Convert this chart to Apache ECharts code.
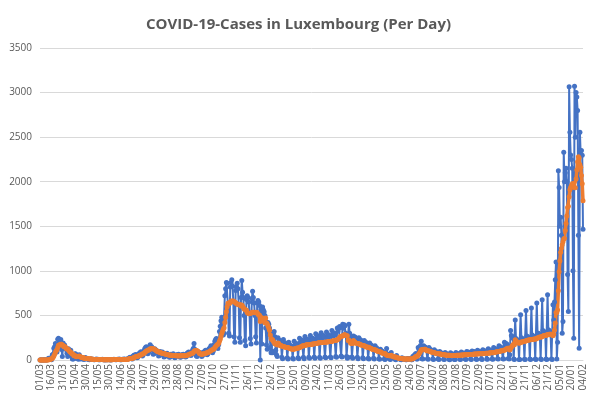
<!DOCTYPE html>
<html>
<head>
<meta charset="UTF-8">
<title>COVID-19-Cases in Luxembourg</title>
<script src="https://cdn.jsdelivr.net/npm/echarts@6/dist/echarts.min.js"></script>
<style>
  html, body { margin: 0; padding: 0; background: #fff; }
  #chart { width: 597px; height: 405px; }
</style>
</head>
<body>
<div id="chart"></div>
<script>
// first day of the series, one value per day (weeks start on Sunday)
var startDate = [2020, 2, 1];

// daily new cases, one row per week (Sun..Sat)
var dailyCases = [
  [0,0,0,0,1,1,2],
  [0,0,2,2,19,8,17],
  [26,4,59,63,132,149,186],
  [128,90,234,245,150,170,230],
  [119,38,190,141,168,125,117],
  [75,39,127,64,81,108,47],
  [11,11,15,66,71,36,57],
  [13,8,60,36,11,30,16],
  [12,6,12,28,15,18,10],
  [5,3,8,10,12,6,9],
  [4,2,7,10,5,9,4],
  [3,2,6,5,8,4,3],
  [2,1,5,4,3,6,4],
  [2,1,4,6,7,9,5],
  [3,2,5,8,6,10,4],
  [2,3,8,6,11,9,8],
  [6,5,15,20,25,31,18],
  [15,10,45,52,48,61,40],
  [25,30,70,68,85,92,75],
  [45,60,105,125,140,150,110],
  [70,85,150,170,145,150,110],
  [65,70,125,115,100,105,80],
  [45,50,95,85,80,90,60],
  [35,40,70,65,75,60,45],
  [30,35,65,55,60,70,40],
  [25,30,55,60,50,65,45],
  [30,35,60,55,65,55,40],
  [35,40,75,80,90,85,60],
  [50,65,110,130,185,120,90],
  [45,40,80,70,75,85,60],
  [40,50,85,90,100,110,70],
  [60,70,120,130,140,160,110],
  [80,100,170,210,230,240,160],
  [130,170,320,380,440,480,340],
  [280,300,720,800,870,860,620],
  [300,270,820,870,900,830,650],
  [260,200,780,820,860,800,620],
  [250,200,700,893,760,700,500],
  [220,160,680,720,700,650,520],
  [240,180,690,770,700,640,500],
  [260,190,640,668,650,610,0],
  [560,180,594,560,540,500,360],
  [170,120,420,400,360,140,80],
  [100,80,300,320,260,110,60],
  [40,250,202,222,192,172,30],
  [15,230,183,193,172,162,25],
  [10,200,155,165,145,155,20],
  [10,210,165,175,185,175,25],
  [15,245,194,203,224,213,30],
  [15,265,214,224,234,224,30],
  [20,275,224,234,244,234,35],
  [20,295,233,253,273,243,30],
  [20,305,244,264,274,254,35],
  [25,315,254,274,284,264,35],
  [25,330,273,293,303,283,40],
  [30,360,325,355,375,365,45],
  [35,400,355,395,385,300,40],
  [20,30,400,300,270,240,35],
  [20,270,247,257,247,227,30],
  [15,250,217,227,217,197,25],
  [15,220,188,198,188,168,20],
  [10,190,157,167,147,137,20],
  [10,160,128,138,118,98,15],
  [8,120,100,100,90,80,12],
  [5,20,130,67,57,47,10],
  [5,85,42,37,32,28,8],
  [3,50,21,18,16,14,5],
  [2,25,10,13,10,9,3],
  [2,16,9,13,15,17,4],
  [4,40,42,52,62,72,12],
  [10,140,123,143,163,210,15],
  [10,160,145,145,135,125,15],
  [8,140,117,117,107,97,12],
  [6,115,99,94,89,84,10],
  [5,95,84,79,74,69,8],
  [5,85,74,68,64,59,8],
  [4,80,68,68,64,60,7],
  [5,85,74,74,68,64,8],
  [5,90,79,79,74,69,10],
  [6,95,84,89,79,74,10],
  [6,100,89,94,89,79,10],
  [7,110,92,97,92,82,12],
  [7,115,98,103,98,88,12],
  [8,125,108,113,103,98,12],
  [8,140,124,129,119,114,14],
  [10,160,142,147,137,127,15],
  [12,200,169,184,179,164,18],
  [12,60,330,275,265,245,10],
  [5,450,240,230,220,190,5],
  [5,507,250,240,230,220,8],
  [5,555,270,260,250,230,10],
  [5,583,280,270,260,240,10],
  [5,640,300,300,290,270,10],
  [5,677,330,320,310,290,10],
  [5,733,340,330,320,280,10],
  [5,620,450,650,900,1100,10],
  [200,2124,1936,1500,1600,1400,300],
  [432,2330,2000,2100,2150,2000,960],
  [545,3064,2556,2300,2250,2150,1000],
  [244,3072,2500,3000,2950,2800,1400],
  [132,2556,2300,2350,2296,1466]
];

// 7-day average, same weekly rows
var avgCases = [
  [0,0,0,0,0,0,1],
  [1,1,1,1,3,4,7],
  [11,11,19,28,44,64,88],
  [103,115,140,166,169,172,178],
  [177,169,163,148,151,145,128],
  [122,122,113,102,90,87,77],
  [68,64,48,48,47,37,38],
  [38,38,44,40,31,30,25],
  [25,25,18,17,18,16,14],
  [13,13,12,10,10,8,8],
  [7,7,7,7,6,6,6],
  [6,6,5,5,5,4,4],
  [4,4,4,4,3,4,4],
  [4,4,4,4,5,5,5],
  [5,5,5,5,5,5,5],
  [5,5,6,6,6,6,7],
  [7,8,9,11,13,16,17],
  [18,19,23,28,31,36,39],
  [40,43,47,49,54,59,64],
  [66,71,76,84,92,100,105],
  [109,112,119,125,126,126,126],
  [125,123,119,111,105,99,94],
  [91,89,84,80,77,75,72],
  [71,69,66,63,62,58,56],
  [55,54,54,52,50,51,51],
  [50,49,48,49,47,46,47],
  [48,49,49,49,51,49,49],
  [49,50,52,56,59,64,66],
  [69,72,77,84,98,103,107],
  [106,103,99,90,74,69,65],
  [64,66,66,69,73,76,78],
  [81,84,89,94,100,107,113],
  [116,120,127,139,151,163,170],
  [177,187,209,233,263,297,323],
  [344,363,420,480,541,596,636],
  [639,634,649,659,663,659,663],
  [657,647,641,634,629,624,620],
  [619,619,607,618,603,589,572],
  [568,562,559,534,526,519,521],
  [524,527,529,536,536,534,531],
  [534,536,529,514,507,503,431],
  [474,473,466,451,435,419,471],
  [415,406,381,359,333,281,241],
  [231,226,209,197,183,179,176],
  [167,191,184,170,160,163,158],
  [155,152,150,146,143,141,140],
  [139,136,132,128,124,122,121],
  [121,123,125,126,131,134,135],
  [136,141,145,149,155,160,161],
  [161,164,167,170,171,172,172],
  [173,174,176,178,179,180,181],
  [181,184,186,189,192,193,193],
  [193,195,196,197,197,199,199],
  [200,201,203,205,206,207,207],
  [207,209,212,215,218,220,221],
  [222,226,233,242,252,264,265],
  [266,272,276,282,283,274,273],
  [271,218,224,211,194,186,185],
  [185,220,204,198,192,187,186],
  [185,182,178,174,169,165,164],
  [164,159,155,151,147,143,142],
  [142,137,133,129,123,119,119],
  [119,114,110,106,101,96,95],
  [95,89,85,80,76,74,73],
  [73,59,57,54,51,48,48],
  [48,52,46,41,37,34,34],
  [34,29,26,23,21,19,18],
  [18,14,13,12,11,11,10],
  [10,11,11,11,11,12,11],
  [11,15,19,25,32,39,41],
  [41,55,67,80,94,114,115],
  [115,117,120,120,116,105,105],
  [105,102,98,94,90,86,86],
  [85,82,79,76,73,71,71],
  [71,68,66,64,61,59,59],
  [59,57,56,54,53,52,52],
  [52,51,50,50,50,50,50],
  [50,51,52,52,53,54,54],
  [54,55,56,56,57,58,58],
  [58,59,60,61,61,62,62],
  [62,63,64,65,66,67,67],
  [67,68,69,70,70,71,70],
  [70,71,72,73,74,75,75],
  [75,76,78,79,80,81,81],
  [81,83,85,88,90,92,92],
  [93,95,98,101,104,105,105],
  [106,111,115,121,127,132,133],
  [133,113,128,143,158,172,171],
  [170,226,213,206,200,192,191],
  [191,200,201,202,204,208,209],
  [209,215,218,221,224,225,226],
  [226,230,231,233,234,235,235],
  [235,244,246,251,255,259,259],
  [259,265,269,272,275,277,277],
  [277,285,287,288,290,288,288],
  [288,272,288,334,416,534,534],
  [561,776,989,1110,1210,1253,1294],
  [1327,1357,1366,1452,1530,1616,1710],
  [1726,1831,1911,1939,1954,1975,1981],
  [1938,1939,1931,2031,2131,2224,2281],
  [2265,2191,2163,2070,1976,1786]
];

var yTicks = [0, 500, 1000, 1500, 2000, 2500, 3000, 3500];

// flatten weekly rows into one value per day
var daily = [].concat.apply([], dailyCases);
var average = [].concat.apply([], avgCases);

// dd/mm label for each day
var days = [];
var t0 = Date.UTC(startDate[0], startDate[1], startDate[2]);
for (var i = 0; i < daily.length; i++) {
    var d = new Date(t0 + i * 86400000);
    var dd = ('0' + d.getUTCDate()).slice(-2);
    var mm = ('0' + (d.getUTCMonth() + 1)).slice(-2);
    days.push(dd + '/' + mm);
}

var chart = echarts.init(document.getElementById('chart'));

chart.setOption({
    animation: false,
    backgroundColor: '#fff',
    title: {
        text: 'COVID-19-Cases in Luxembourg (Per Day)',
        left: 'center',
        top: 12,
        textStyle: {
            fontFamily: 'Open Sans',
            fontWeight: 'bold',
            fontSize: 15,
            color: '#595959'
        }
    },
    grid: {
        left: 40,
        right: 14,
        top: 48,
        bottom: 45
    },
    xAxis: {
        type: 'category',
        data: days,
        boundaryGap: false,
        axisLine: { lineStyle: { color: '#d9d9d9' } },
        axisTick: { show: false },
        axisLabel: {
            interval: 14,
            rotate: 90,
            fontFamily: 'Open Sans',
            fontSize: 10,
            color: '#595959',
            margin: 4
        }
    },
    yAxis: {
        type: 'value',
        min: yTicks[0],
        max: yTicks[yTicks.length - 1],
        interval: 500,
        axisLine: { show: false },
        axisTick: { show: false },
        splitLine: { lineStyle: { color: '#d9d9d9' } },
        axisLabel: {
            fontFamily: 'Open Sans',
            fontSize: 10,
            color: '#595959',
            margin: 8,
            formatter: function (v) { return String(v); }
        }
    },
    series: [{
        name: 'Cases',
        type: 'line',
        data: daily,
        symbol: 'circle',
        symbolSize: 5,
        showAllSymbol: true,
        itemStyle: { color: '#4472c4' },
        lineStyle: { color: '#4472c4', width: 2 }
    }, {
        name: '7-day average',
        type: 'line',
        data: average,
        symbol: 'circle',
        symbolSize: 5,
        showAllSymbol: true,
        itemStyle: { color: '#ed7d31' },
        lineStyle: { color: '#ed7d31', width: 3.5 }
    }]
});
</script>
</body>
</html>
